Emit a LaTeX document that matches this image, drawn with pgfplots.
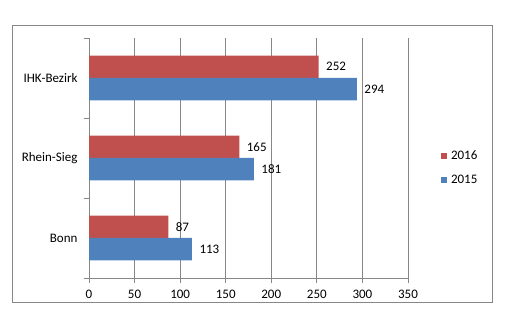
\documentclass[border=0pt]{standalone}
\usepackage{pgfplots}
\pgfplotsset{compat=1.18}
\usepackage{fontspec}
\setmainfont{Carlito}
\definecolor{cred}{HTML}{C0504D}
\definecolor{cblue}{HTML}{4F81BD}
\definecolor{cgrid}{HTML}{878787}
\begin{document}
\begin{tikzpicture}
\path[use as bounding box] (0bp,0bp) rectangle (505bp,330bp);
\draw[cgrid, line width=0.9bp] (12bp,28bp) rectangle (492bp,305bp);
\begin{axis}[
  at={(89bp,52bp)}, anchor=south west,
  scale only axis, width=319bp, height=240bp,
  xmin=0, xmax=350, ymin=-0.5, ymax=2.5,
  xbar, bar width=0.28,
  axis x line*=bottom, axis y line*=left,
  axis line style={cgrid, line width=0.8bp},
  xtick={0,50,...,350},
  ytick={-0.5,0.5,1.5,2.5}, yticklabels={},
  extra y ticks={0,1,2},
  extra y tick labels={Bonn,Rhein-Sieg,IHK-Bezirk},
  extra y tick style={major tick length=0pt},
  tick align=outside, major tick length=5bp,
  tick style={cgrid, line width=0.8bp},
  xmajorgrids, grid style={cgrid, line width=0.8bp},
  font=\fontsize{13bp}{15bp}\selectfont,
  /pgf/number format/assume math mode=true,
  xticklabel style={yshift=-4bp},
  yticklabel style={xshift=-8bp},
  nodes near coords,
  every node near coord/.append style={anchor=west, xshift=4bp, black, font=\fontsize{13bp}{15bp}\selectfont},
  legend style={draw=none, fill=none, at={(rel axis cs:1.103,0.458)}, anchor=west, inner sep=0pt,
    font=\fontsize{13bp}{15bp}\selectfont, row sep=10bp,
    nodes={inner xsep=4bp}},
  legend cell align=left,
  legend image code/.code={\fill[#1,draw=none] (0bp,-3bp) rectangle (6bp,3bp);},
]
\addplot[fill=cred, draw=none, bar shift=0.14] coordinates {(87,0) (165,1) (252,2)};
\addplot[fill=cblue, draw=none, bar shift=-0.14] coordinates {(113,0) (181,1) (294,2)};
\legend{2016,2015}
\end{axis}
\end{tikzpicture}
\end{document}
